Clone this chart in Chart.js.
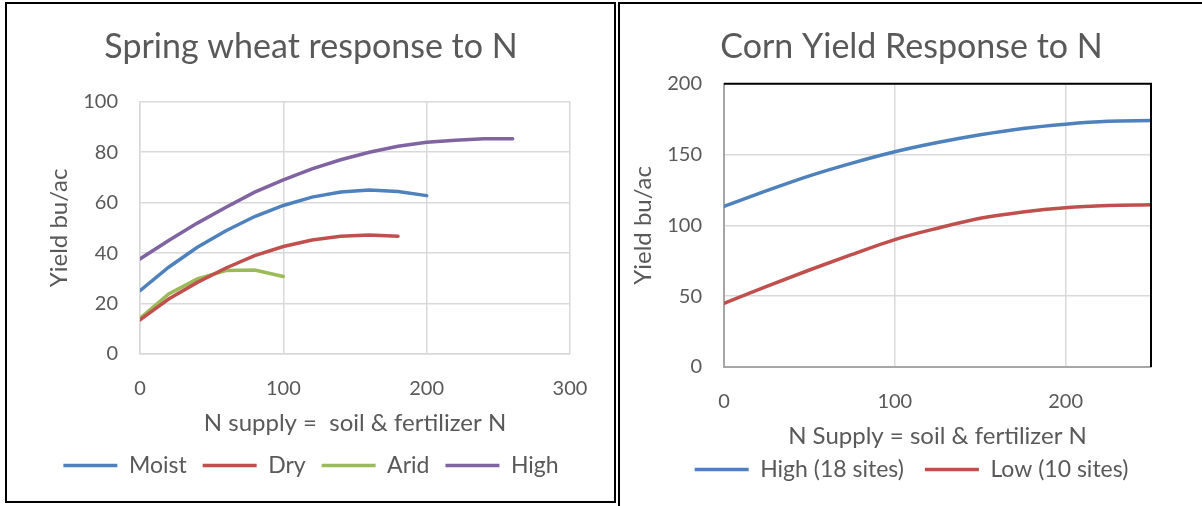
<!DOCTYPE html>
<html>
<head>
<meta charset="utf-8">
<script src="https://cdn.jsdelivr.net/npm/chart.js@4.4.1/dist/chart.umd.min.js"></script>
<style>
  body { margin: 0; background: #fff; width: 1202px; height: 506px; overflow: hidden; position: relative; }
  #boxL { position: absolute; left: 5px; top: 2px; width: 607px; height: 497px; border: 2px solid #000; }
  #boxR { position: absolute; left: 618px; top: 2px; width: 600px; height: 520px; border-top: 2px solid #000; border-left: 2px solid #000; }
  canvas { position: absolute; }
  #wheat { left: 8px; top: 5px; }
  #corn { left: 621px; top: 5px; }
</style>
</head>
<body>
<div id="boxL"></div>
<div id="boxR"></div>
<canvas id="wheat" width="606" height="496"></canvas>
<canvas id="corn" width="581" height="501"></canvas>
<script>
// spring wheat, N supply every 20
var wheatN = [0, 20, 40, 60, 80, 100, 120, 140, 160, 180, 200, 220, 240, 260];
var moist = [25.1, 34.4, 42.3, 48.9, 54.5, 58.9, 62.2, 64.2, 65.0, 64.4, 62.8];
var dry = [13.5, 21.8, 28.4, 34.1, 39.0, 42.6, 45.2, 46.7, 47.2, 46.7];
var arid = [14.2, 23.8, 29.8, 33.1, 33.3, 30.7];
var high = [37.7, 45.0, 51.9, 58.2, 64.2, 69.0, 73.4, 77.0, 80.0, 82.4, 84.0, 84.8, 85.3, 85.3];

// corn, N supply every 25
var cornN = [0, 25, 50, 75, 100, 125, 150, 175, 200, 225, 250];
var cornHigh = [113.5, 124.5, 135, 144, 152, 158.5, 164, 168.5, 171.5, 173.5, 174];
var cornLow = [45, 57, 68.5, 79.5, 90, 98, 105, 109.5, 112.5, 114, 114.5];

var wheatXTicks = [0, 100, 200, 300];
var wheatYTicks = [0, 20, 40, 60, 80, 100];
var cornXTicks = [0, 100, 200];
var cornYTicks = [0, 50, 100, 150, 200];

var txt = '#595959';
Chart.defaults.font.family = 'Lato, "Liberation Sans", sans-serif';
Chart.defaults.color = txt;

function pts(xs, ys) {
    return ys.map(function (v, i) { return {x: xs[i], y: v}; });
}

function line(label, xs, ys, color) {
    return {
        label: label,
        data: pts(xs, ys),
        borderColor: color,
        backgroundColor: color,
        borderWidth: 3.5,
        borderCapStyle: 'round',
        pointRadius: 0,
        fill: false
    };
}

function fixed(list) {
    return function (s) { s.ticks = list.map(function (v) { return {value: v}; }); };
}

// empty axis on the right, only there to reserve space so the title centres like the original
function spacer(w) {
    return {
        position: 'right',
        display: true,
        afterFit: function (s) { s.width = w; },
        grid: {display: false},
        border: {display: false},
        ticks: {display: false}
    };
}

// black frame on top and right of the corn plot
var frame = {
    id: 'frame',
    afterDatasetsDraw: function (chart) {
        var a = chart.chartArea, ctx = chart.ctx;
        ctx.save();
        ctx.strokeStyle = '#000';
        ctx.lineWidth = 2;
        ctx.beginPath();
        ctx.moveTo(a.left, a.top);
        ctx.lineTo(a.right, a.top);
        ctx.lineTo(a.right, a.bottom);
        ctx.stroke();
        ctx.restore();
    }
};

function legendOpts(pad) {
    return {
        position: 'bottom',
        labels: {
            usePointStyle: true,
            pointStyle: 'line',
            pointStyleWidth: 54,
            padding: pad,
            color: txt,
            font: {size: 23}
        }
    };
}

new Chart(document.getElementById('wheat'), {
    type: 'line',
    data: {
        datasets: [
            line('Moist', wheatN, moist, '#4f81bd'),
            line('Dry', wheatN, dry, '#c0504d'),
            line('Arid', wheatN, arid, '#9bbb59'),
            line('High', wheatN, high, '#8064a2')
        ]
    },
    options: {
        responsive: false,
        animation: false,
        layout: {padding: {left: 0, right: 0, top: 0, bottom: 14}},
        plugins: {
            title: {
                display: true,
                text: 'Spring wheat response to N',
                color: txt,
                font: {size: 34, weight: 'normal'},
                padding: {top: 22, bottom: 34}
            },
            legend: legendOpts(16),
            tooltip: {enabled: false}
        },
        scales: {
            x: {
                type: 'linear', min: 0, max: 300,
                afterFit: function (s) { s.height = 84; },
                afterBuildTicks: fixed(wheatXTicks),
                grid: {color: '#d9d9d9', lineWidth: 1.5, drawTicks: false},
                border: {color: '#d9d9d9', width: 1.5},
                ticks: {padding: 23, font: {size: 20}, color: txt},
                title: {display: true, text: 'N supply =  soil & fertilizer N', color: txt, font: {size: 24}, padding: {top: 0, bottom: 0}}
            },
            y: {
                min: 0, max: 100,
                afterFit: function (s) { s.width = 132; },
                afterBuildTicks: fixed(wheatYTicks),
                grid: {color: '#d9d9d9', lineWidth: 1.5, drawTicks: false},
                border: {color: '#d9d9d9', width: 1.5},
                ticks: {padding: 22, font: {size: 20}, color: txt},
                title: {display: true, text: 'Yield bu/ac', color: txt, font: {size: 24}, padding: {top: 37, bottom: 0}}
            },
            pad: spacer(44)
        }
    }
});

new Chart(document.getElementById('corn'), {
    type: 'line',
    data: {
        datasets: [
            Object.assign(line('High (18 sites)', cornN, cornHigh, '#4f81bd'), {cubicInterpolationMode: 'monotone'}),
            Object.assign(line('Low (10 sites)', cornN, cornLow, '#c0504d'), {cubicInterpolationMode: 'monotone'})
        ]
    },
    plugins: [frame],
    options: {
        responsive: false,
        animation: false,
        layout: {padding: {left: 0, right: 0, top: 0, bottom: 15}},
        plugins: {
            title: {
                display: true,
                text: 'Corn Yield Response to N',
                color: txt,
                font: {size: 34, weight: 'normal'},
                padding: {top: 22, bottom: 16}
            },
            legend: legendOpts(21),
            tooltip: {enabled: false}
        },
        scales: {
            x: {
                type: 'linear', min: 0, max: 250,
                afterFit: function (s) { s.height = 70; },
                afterBuildTicks: fixed(cornXTicks),
                grid: {color: '#d9d9d9', lineWidth: 1.5, drawTicks: false},
                border: {color: '#a6a6a6', width: 2},
                ticks: {padding: 23, font: {size: 20}, color: txt},
                title: {display: true, text: 'N Supply = soil & fertilizer N', color: txt, font: {size: 24}, padding: {top: 0, bottom: -14}}
            },
            y: {
                min: 0, max: 200,
                afterFit: function (s) { s.width = 103; },
                afterBuildTicks: fixed(cornYTicks),
                grid: {color: '#d9d9d9', lineWidth: 1.5, drawTicks: false},
                border: {color: '#a6a6a6', width: 2},
                ticks: {padding: 22, font: {size: 20}, color: txt},
                title: {display: true, text: 'Yield bu/ac', color: txt, font: {size: 24}, padding: {top: 8, bottom: 0}}
            },
            pad: spacer(51)
        }
    }
});
</script>
</body>
</html>
